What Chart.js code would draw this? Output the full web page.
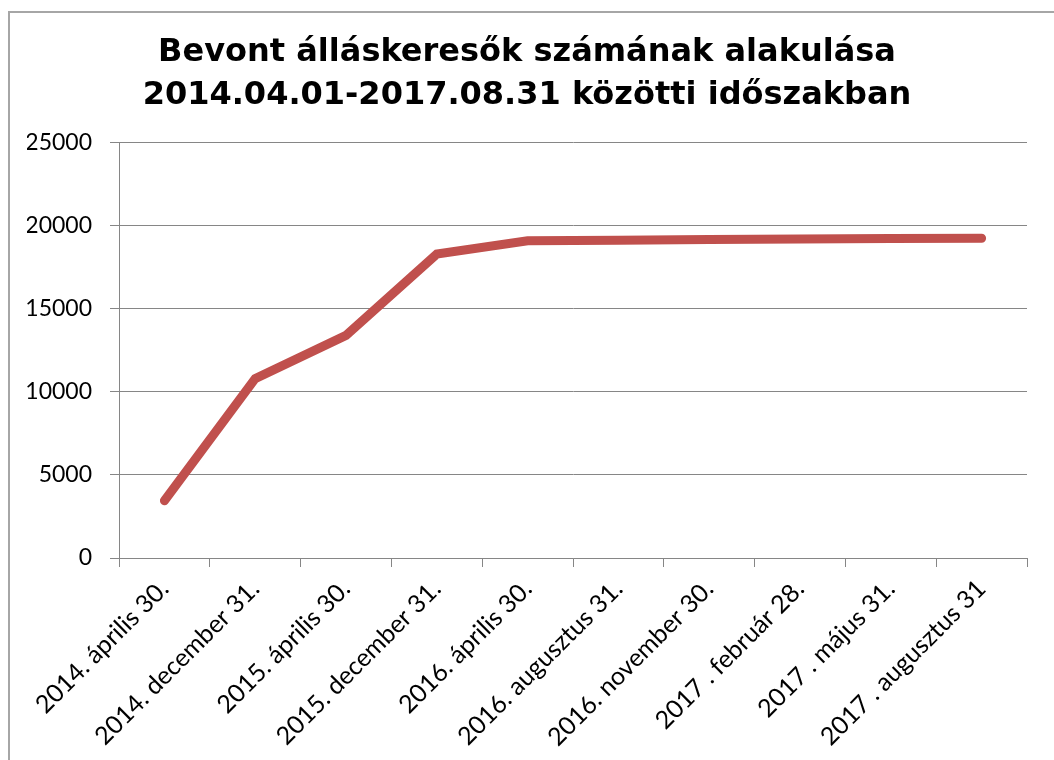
<!DOCTYPE html>
<html>
<head>
<meta charset="utf-8">
<script src="https://cdn.jsdelivr.net/npm/chart.js@4.4.1/dist/chart.umd.min.js"></script>
<style>
  html, body { margin: 0; padding: 0; background: #fff; overflow: hidden; }
  .frame {
    position: absolute; left: 8px; top: 11px;
    width: 1100px; height: 800px;
    border: 2px solid #a6a6a6; box-sizing: border-box;
  }
  .wrap { position: absolute; left: 0; top: 0; width: 1054px; height: 760px; }
</style>
</head>
<body>
<div class="frame"></div>
<div class="wrap"><canvas id="line-chart" width="1054" height="760"></canvas></div>
<script>
const titleLines = [
  "Bevont álláskeresők számának alakulása",
  "2014.04.01-2017.08.31 közötti időszakban"
];
const dates = [
  "2014. április 30.",
  "2014. december 31.",
  "2015. április 30.",
  "2015. december 31.",
  "2016. április 30.",
  "2016. augusztus 31.",
  "2016. november 30.",
  "2017 . február 28.",
  "2017 . május 31.",
  "2017 . augusztus 31"
];
const jobseekers = [3450, 10800, 13400, 18300, 19100, 19130, 19170, 19200, 19230, 19250];
const yTicks = [0, 5000, 10000, 15000, 20000, 25000];

const gridGray = "#868686";
const xFont = { family: "Lato, 'Open Sans', sans-serif", size: 25 };
const yFont = { family: "Lato, 'Open Sans', sans-serif", size: 23 };

new Chart(document.getElementById("line-chart"), {
  type: "line",
  data: {
    labels: dates,
    datasets: [
      {
        data: jobseekers,
        borderColor: "#c0504d",
        borderWidth: 9,
        borderCapStyle: "round",
        borderJoinStyle: "miter",
        pointRadius: 0,
        tension: 0,
        fill: false,
      },
    ],
  },
  options: {
    responsive: false,
    animation: false,
    devicePixelRatio: 1,
    layout: { padding: { top: 14, left: 27, right: 27, bottom: 0 } },
    plugins: {
      legend: { display: false },
      tooltip: { enabled: false },
      title: {
        display: true,
        text: titleLines,
        color: "#000",
        font: { family: "'DejaVu Sans', Verdana, sans-serif", size: 32, weight: "bold", lineHeight: 1.34 },
        padding: { top: 17, bottom: 26 },
      },
    },
    scales: {
      x: {
        offset: true,
        grid: {
          offset: true,
          drawOnChartArea: false,
          drawTicks: true,
          tickLength: 9,
          color: gridGray,
        },
        border: { color: gridGray, width: 1 },
        ticks: {
          autoSkip: false,
          maxRotation: 45,
          minRotation: 45,
          color: "#000",
          font: xFont,
          padding: 7,
        },
        afterFit: (s) => { s.height = 202; },
      },
      y: {
        min: 0,
        max: 25000,
        afterBuildTicks: (s) => { s.ticks = yTicks.map((v) => ({ value: v })); },
        grid: { color: gridGray, tickLength: 9, drawTicks: true },
        border: { color: gridGray, width: 1 },
        ticks: {
          color: "#000",
          font: yFont,
          padding: 18,
          callback: (v) => String(v),
        },
        afterFit: (s) => { s.width = 92; },
      },
    },
  },
});
</script>
</body>
</html>
